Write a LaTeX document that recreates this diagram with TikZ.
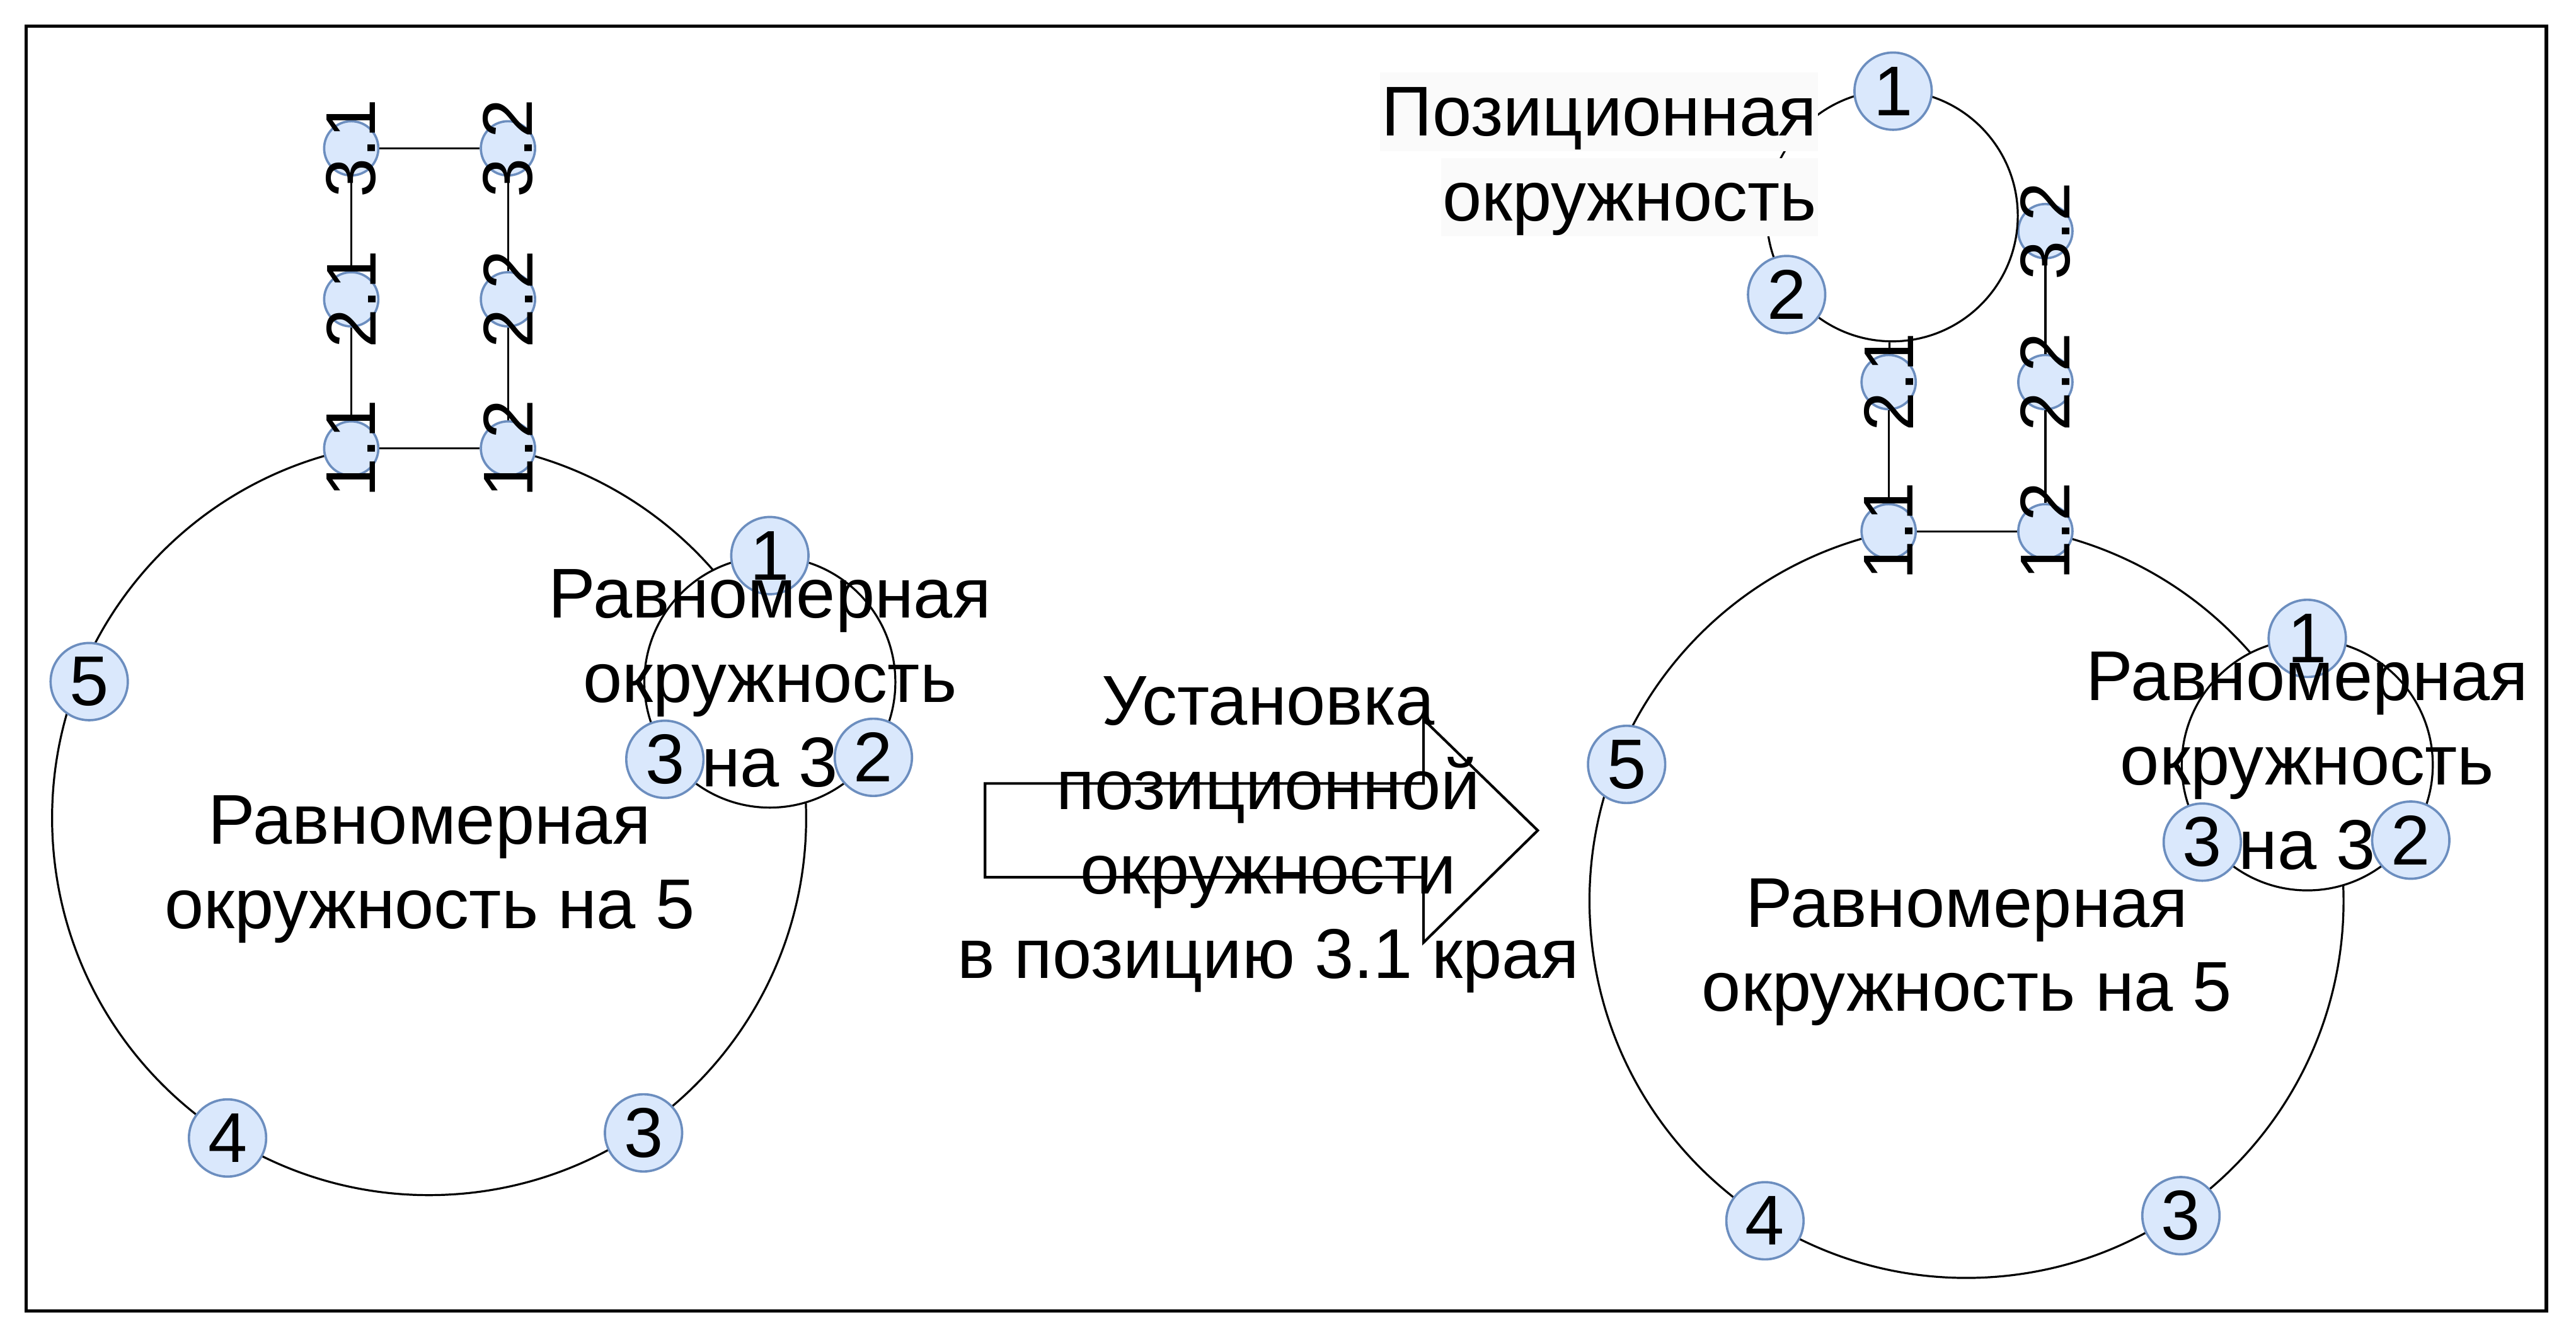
\documentclass[tikz,border=0pt]{standalone}
\usepackage{fontspec}
\setmainfont{Liberation Sans}
\definecolor{nodefill}{HTML}{DAE8FC}
\definecolor{nodeline}{HTML}{6C8EBF}
\definecolor{labelbg}{HTML}{FAFAFA}
\tikzset{
  ringpt/.style={circle, draw=nodeline, fill=nodefill, line width=0.4pt, minimum size=0.47cm, inner sep=0pt},
  edgept/.style={circle, draw=nodeline, fill=nodefill, line width=0.4pt, minimum size=0.33cm, inner sep=0pt},
  edgetxt/.style={rotate=90, inner sep=0pt},
  ring/.style={line width=0.35pt},
  txt/.style={align=center, inner sep=0pt},
  posbg/.style={fill=labelbg, inner xsep=0.01cm, inner ysep=0pt, text height=0.383cm, text depth=0.095cm},
}

\begin{document}
\begin{tikzpicture}[font=\fontsize{12.2}{14.6}\selectfont]
	\useasboundingbox (0,0) rectangle (15.68,-8.15);
	\draw[line width=0.6pt] (0.16,-0.16) rectangle (15.50,-7.98);
	
	% before (L) and after (R)
	\foreach \p/\dx/\dy in {L/0/0, R/9.358/-0.504}{
		\begin{scope}[shift={(\dx,\dy)}]
			\coordinate (\p-c) at (2.612,-4.98);
			\coordinate (\p-s) at (4.686,-4.152);
			% circle on 5, open at the edge and at the circle on 3
			\draw[ring] (\p-c) ++(78:2.295) arc[start angle=78, end angle=41.1, radius=2.295];
			\draw[ring] (\p-c) ++(2.4:2.295) arc[start angle=2.4, end angle=-258, radius=2.295];
			\draw[ring] (\p-s) circle[radius=0.764];
			
			\node[ringpt] (\p-5) at (0.543,-4.149) {5};
			\node[ringpt] (\p-4) at (1.385,-6.927) {4};
			\node[ringpt] (\p-3) at (3.917,-6.896) {3};
			\node[ringpt] (\p-s1) at (4.686,-3.382) {1};
			\node[ringpt] (\p-s2) at (5.316,-4.61) {2};
			\node[ringpt] (\p-s3) at (4.047,-4.622) {3};
			
			% edge
			\node[edgept, label={[edgetxt]center:1.1}] (\p-11) at (2.138,-2.73) {};
			\node[edgept, label={[edgetxt]center:1.2}] (\p-12) at (3.092,-2.73) {};
			\node[edgept, label={[edgetxt]center:2.1}] (\p-21) at (2.138,-1.822) {};
			\node[edgept, label={[edgetxt]center:2.2}] (\p-22) at (3.092,-1.822) {};
			\node[edgept, label={[edgetxt]center:3.2}] (\p-32) at (3.092,-0.903) {};
			\draw[ring] (\p-21) -- (\p-11) -- (\p-12) -- (\p-22) -- (\p-32);
			
			\node[txt, anchor=north] (\p-big) at (2.615,-4.837) {Равномерная\\окружность на 5};
			\node[txt, anchor=north] (\p-small) at (4.686,-3.459) {Равномерная\\окружность\\на 3};
		\end{scope}
	}
	
	% position 3.1 before
	\node[edgept, label={[edgetxt]center:3.1}] (L-31) at (2.138,-0.903) {};
	\draw[ring] (L-21) -- (L-31) -- (L-32);
	
	% positional circle in position 3.1 after
	\node[circle, draw, ring, minimum size=1.528cm, inner sep=0pt] (R-pos) at (11.518,-1.314) {};
	\draw[ring] (R-21) -- (R-pos);
	\node[ringpt] (R-p1) at (11.523,-0.555) {1};
	\node[ringpt] (R-p2) at (10.875,-1.793) {2};
	\node[posbg, anchor=base east] (R-title1) at (11.074,-0.826) {Позиционная};
	\node[posbg, anchor=base east] (R-title2) at (11.074,-1.344) {окружность};
	
	% arrow
	\draw[line width=0.45pt] (5.996,-4.769) -- (8.665,-4.769) -- (8.665,-4.38) -- (9.36,-5.055)
		-- (8.665,-5.737) -- (8.665,-5.34) -- (5.996,-5.34) -- cycle;
	\node[txt, anchor=north] (move) at (7.72,-4.112) {Установка\\позиционной\\окружности\\в позицию 3.1 края};
\end{tikzpicture}
\end{document}
